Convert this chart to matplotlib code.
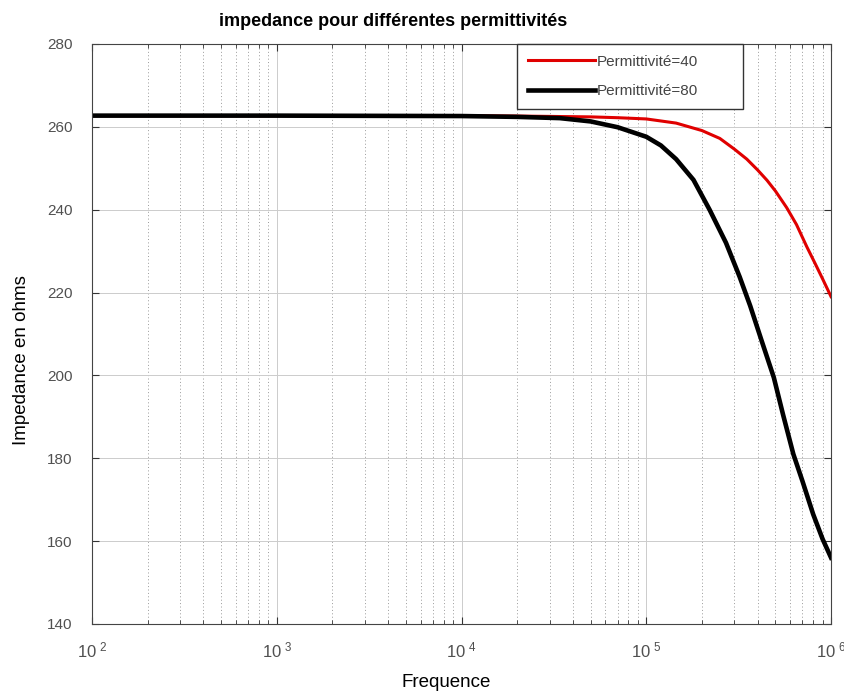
import matplotlib
matplotlib.use('Agg')
import matplotlib.pyplot as plt
from matplotlib.ticker import LogLocator, NullFormatter

plt.rcParams['font.family'] = ['Liberation Sans', 'DejaVu Sans']
plt.rcParams['mathtext.fontset'] = 'custom'
plt.rcParams['mathtext.rm'] = 'Liberation Sans'

# Valeurs
freq_40 = [1e2, 1e3, 1e4, 2e4, 5e4, 7e4, 1e5, 1.45e5, 2e5, 2.5e5, 3e5, 3.5e5,
           4e5, 4.5e5, 5e5, 5.75e5, 6.5e5, 7.4e5, 8.2e5, 9e5, 1e6]
z_eps40 = [262.7, 262.7, 262.7, 262.6, 262.4, 262.2, 261.9, 260.9, 259.1,
           257.2, 254.6, 252.2, 249.6, 247.1, 244.5, 240.5, 236.4, 231.0,
           227.0, 223.3, 219.0]

freq_80 = [1e2, 1e3, 1e4, 2e4, 3.4e4, 5e4, 7e4, 1e5, 1.2e5, 1.45e5, 1.8e5,
           2.2e5, 2.7e5, 3.2e5, 3.65e5, 4.2e5, 4.9e5, 5.5e5, 6.25e5, 7e5,
           8e5, 9e5, 1e6]
z_eps80 = [262.7, 262.7, 262.6, 262.4, 262.1, 261.3, 259.9, 257.6, 255.5,
           252.2, 247.2, 240.0, 232.0, 223.8, 216.8, 208.5, 199.5, 190.5,
           181.0, 174.5, 166.5, 160.5, 156.0]

x_ticks = [1e2, 1e3, 1e4, 1e5, 1e6]
x_labels = [r'$\mathregular{10^{\ 2}}$', r'$\mathregular{10^{\ 3}}$',
            r'$\mathregular{10^{\ 4}}$', r'$\mathregular{10^{\ 5}}$',
            r'$\mathregular{10^{\ 6}}$']
y_ticks = [140, 160, 180, 200, 220, 240, 260, 280]

fig = plt.figure(figsize=(8.45, 7.0), dpi=100)
ax = fig.add_axes([0.1089, 0.1086, 0.8746, 0.8286])

ax.semilogx(freq_40, z_eps40, color='#e00000', linewidth=2.2, label='Permittivité=40')
ax.semilogx(freq_80, z_eps80, color='black', linewidth=3.3, label='Permittivité=80')

ax.set_xlim(1e2, 1e6)
ax.set_ylim(140, 280)
ax.set_xticks(x_ticks)
ax.set_xticklabels(x_labels)
ax.xaxis.set_minor_locator(LogLocator(base=10, subs=range(2, 10)))
ax.xaxis.set_minor_formatter(NullFormatter())
ax.set_yticks(y_ticks)

# grille facon matlab
ax.grid(True, which='major', axis='both', color='#cccccc', linestyle='-', linewidth=0.7)
ax.grid(True, which='minor', axis='x', color='#9a9a9a', linestyle=(0, (1, 2.5)), linewidth=0.7)

ax.tick_params(which='both', direction='in', top=True, right=True, colors='#333333',
               labelcolor='#505050')
ax.tick_params(which='major', length=5, labelsize=11)
ax.tick_params(which='minor', length=3)
ax.tick_params(axis='x', which='major', pad=12, labelsize=12)
ax.tick_params(axis='y', pad=14)
for s in ax.spines.values():
    s.set_color('#444444')

ax.set_title('impedance pour différentes permittivités', fontsize=13, fontweight='bold',
             x=0.407, pad=13)
ax.set_xlabel('Frequence', fontsize=13.5)
ax.set_ylabel('Impedance en ohms', fontsize=13.5)
ax.xaxis.set_label_coords(0.479, -0.086)
ax.yaxis.set_label_coords(-0.084, 0.455)

leg = ax.legend(loc='upper left', bbox_to_anchor=(0.575, 1.0, 0.306, 0.0), mode='expand',
                fontsize=11, fancybox=False, framealpha=1, edgecolor='#333333',
                handlelength=4.4, handletextpad=0.15, borderpad=0.7, labelspacing=1.0,
                borderaxespad=0.0)
for t in leg.get_texts():
    t.set_color('#444444')

plt.savefig('out.png', dpi=100)
